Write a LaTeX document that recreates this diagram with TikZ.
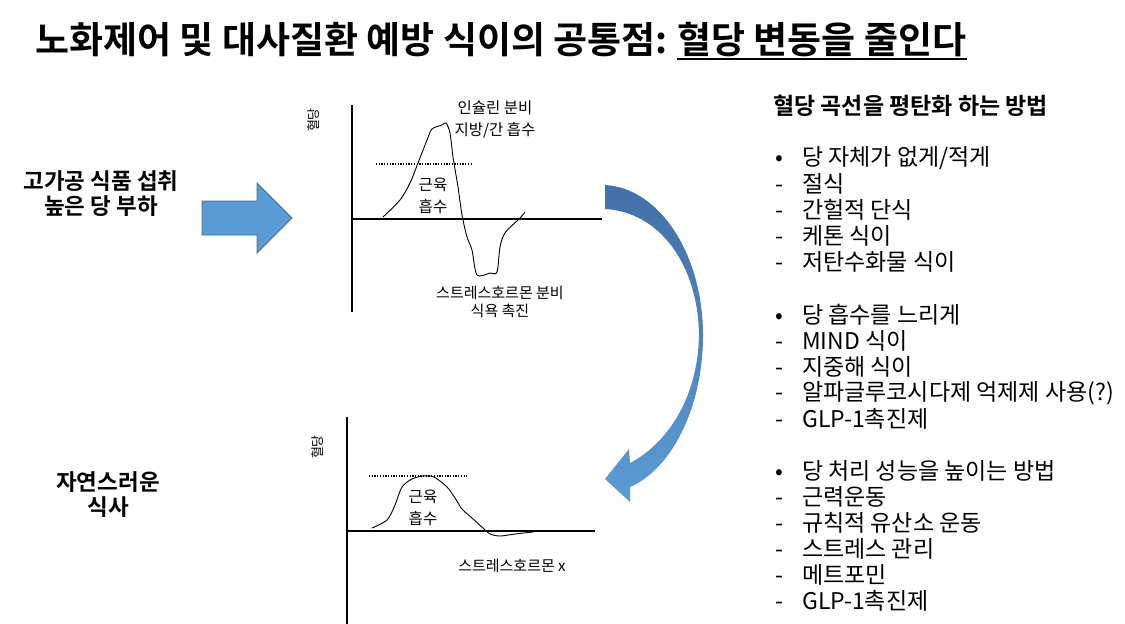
\documentclass[tikz,border=0pt]{standalone}
\usepackage{fontspec}
\setmainfont{Noto Sans CJK KR}[BoldFont={Noto Sans CJK KR Bold}]
\usetikzlibrary{positioning, calc}
\definecolor{arrowfill}{RGB}{91,155,213}
\definecolor{arrowline}{RGB}{65,113,156}
\definecolor{arrowtop}{RGB}{66,112,168}
\newcommand{\bl}[1]{\makebox[27pt][l]{#1}}

\begin{document}
\begin{tikzpicture}[x=1pt, y=-1pt,
    axis/.style={line width=1.4pt},
    curve/.style={line width=0.9pt},
    level/.style={line width=1.3pt, dash pattern=on 1.3pt off 1.4pt},
    lbl/.style={inner sep=0pt, align=center, font=\fontsize{15}{20}\selectfont},
    ylbl/.style={inner sep=0pt, rotate=90, font=\fontsize{13}{14}\selectfont},
    side/.style={inner sep=0pt, align=center, font=\fontsize{22.5}{25}\selectfont\bfseries},
    item/.style={inner sep=0pt, anchor=west, font=\fontsize{23}{26}\selectfont},
    blockarrow/.style={fill=arrowfill, draw=arrowline, line width=0.8pt}]

  \useasboundingbox (0,0) rectangle (1125,624);

  % title
  \node[anchor=base west, inner sep=0pt, font=\fontsize{37}{42}\selectfont\bfseries] (title) at (35,53) {노화제어 및 대사질환 예방 식이의 공통점:};
  \node[anchor=base west, inner sep=0pt, xshift=9pt, font=\fontsize{37}{42}\selectfont\bfseries] (titlekey) at (title.base east) {혈당 변동을 줄인다};
  \draw[line width=2.5pt] ([yshift=-6pt]titlekey.base west) -- ([yshift=-6pt]titlekey.base east);

  % left side
  \node[side] (food) at (101,194) {고가공 식품 섭취\\높은 당 부하};
  \node[side] (meal) at (108,495) {자연스러운\\식사};
  \draw[blockarrow] (202,201) -- (257,201) -- (257,183) -- (292,218) -- (257,253) -- (257,235) -- (202,235) -- cycle;

  % upper graph
  \coordinate (o1) at (352,219);
  \node[ylbl] (yl1) at (314,120) {혈당};
  \draw[axis] (352,105) -- (352,312);
  \draw[axis] (o1) -- (602,219);
  \draw[level] (376,164) -- (473,164);
  \draw[curve] plot[smooth, tension=0.5] coordinates {(383,217) (400,200) (410,183) (418,163) (427,140) (432,129) (442,125) (446,123) (450,133) (453,157) (458,187) (462,215) (467,237) (472,250) (477,275) (490,273) (497,272) (500,247) (505,233) (520,218) (525,212)};
  \node[lbl, font=\fontsize{15.5}{22}\selectfont] (ins) at (495,119) {인슐린 분비\\지방/간 흡수};
  \node[lbl, font=\fontsize{15.5}{22}\selectfont] (mus1) at (433,196) {근육\\흡수};
  \node[lbl, font=\fontsize{15}{18}\selectfont] (str1) at (500,302) {스트레스호르몬 분비\\식욕 촉진};

  % lower graph
  \coordinate (o2) at (347,531);
  \node[ylbl] (yl2) at (318,447) {혈당};
  \draw[axis] (347,417) -- (347,624);
  \draw[axis] (o2) -- (595,531);
  \draw[level] (369,476) -- (467,476);
  \draw[curve] plot[smooth, tension=0.5] coordinates {(372,528) (387,520) (395,505) (402,487) (412,479) (423,476) (434,477) (447,487) (455,498) (462,509) (472,518) (483,528) (490,534) (500,536) (515,534) (533,532)};
  \node[lbl, font=\fontsize{15.5}{22}\selectfont] (mus2) at (423,508) {근육\\흡수};
  \node[lbl] (str2) at (512,566) {스트레스호르몬 x};

  % curved arrow between the graphs
  \shade[top color=arrowtop, bottom color=arrowfill]
    (605,185) .. controls (660,188) and (703,255) .. (703,335)
    .. controls (703,410) and (670,470) .. (630,487)
    -- (630,502) -- (605,479) -- (629,449) -- (630,463)
    .. controls (665,445) and (698,400) .. (699,335)
    .. controls (698,265) and (660,212) .. (605,209) -- cycle;

  % right column
  \node[inner sep=0pt, anchor=west, font=\fontsize{23}{26}\selectfont\bfseries] (hdr) at (773,106) {혈당 곡선을 평탄화 하는 방법};

  \node[item] (a0) at (775,158) {\bl{•}당 자체가 없게/적게};
  \node[item] (a1) at (775,184) {\bl{-}절식};
  \node[item] (a2) at (775,210) {\bl{-}간헐적 단식};
  \node[item] (a3) at (775,236) {\bl{-}케톤 식이};
  \node[item] (a4) at (775,262) {\bl{-}저탄수화물 식이};

  \node[item] (b0) at (775,315) {\bl{•}당 흡수를 느리게};
  \node[item] (b1) at (775,341) {\bl{-}MIND 식이};
  \node[item] (b2) at (775,367) {\bl{-}지중해 식이};
  \node[item] (b3) at (775,393) {\bl{-}알파글루코시다제 억제제 사용(?)};
  \node[item] (b4) at (775,419) {\bl{-}GLP-1촉진제};

  \node[item] (c0) at (775,471) {\bl{•}당 처리 성능을 높이는 방법};
  \node[item] (c1) at (775,497) {\bl{-}근력운동};
  \node[item] (c2) at (775,523) {\bl{-}규칙적 유산소 운동};
  \node[item] (c3) at (775,549) {\bl{-}스트레스 관리};
  \node[item] (c4) at (775,575) {\bl{-}메트포민};
  \node[item] (c5) at (775,601) {\bl{-}GLP-1촉진제};
\end{tikzpicture}
\end{document}
